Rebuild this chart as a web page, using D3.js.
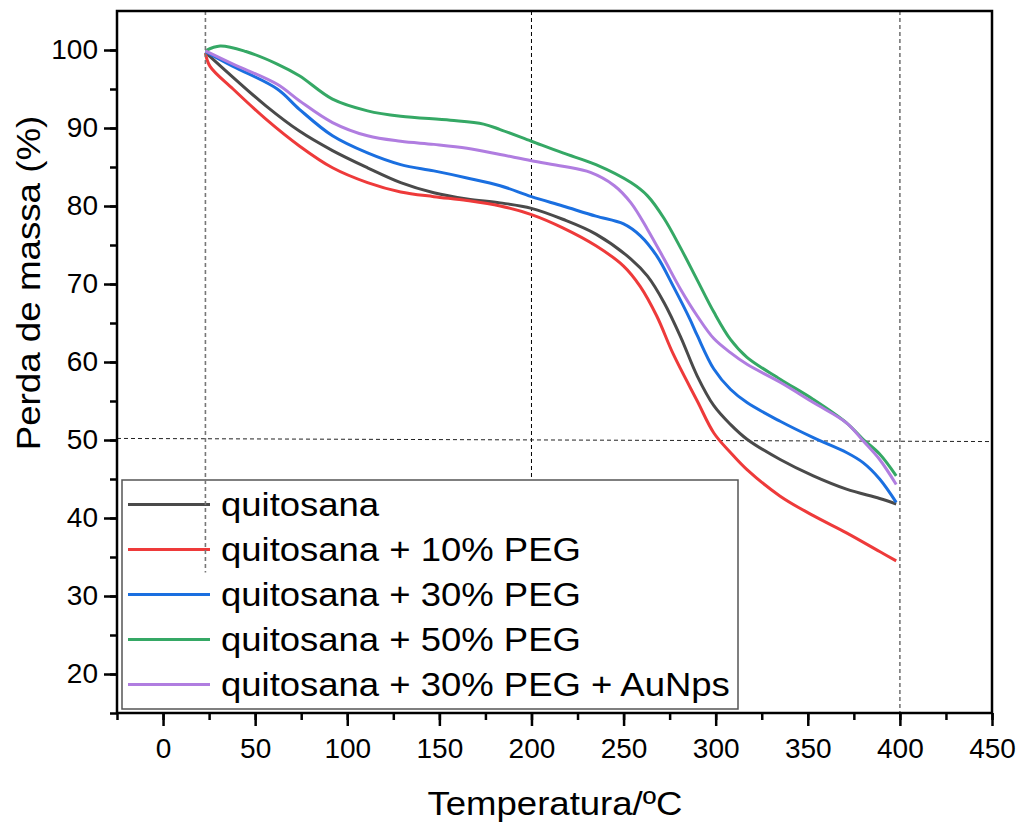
<!DOCTYPE html>
<html lang="pt">
<head>
<meta charset="UTF-8">
<script src="https://d3js.org/d3.v7.min.js"></script>
<title>TGA quitosana</title>
<style>
  body { margin: 0; background: #fff; }
  text { font-family: "Liberation Sans", Arial, sans-serif; fill: #000; }
  .axis path, .axis line { stroke: #000; }
  .curve { fill: none; stroke-width: 3; stroke-linejoin: round; }
</style>
</head>
<body>
<script>
// temperature (ºC) / mass (%)
const temp_quit = [23, 38, 56, 74, 92, 111, 129, 147, 165, 183, 200, 217, 235, 254, 263, 272, 281, 290, 299, 308, 317, 335, 353, 371, 389, 398];
const mass_quit = [99.7, 96.5, 92.8, 89.6, 87.1, 84.9, 83.0, 81.7, 80.9, 80.4, 79.7, 78.3, 76.4, 73.2, 71.0, 67.6, 63.2, 58.2, 54.4, 52.0, 50.1, 47.5, 45.4, 43.7, 42.5, 41.8];

const temp_peg10 = [23, 25.5, 38, 56, 74, 92, 111, 129, 147, 165, 183, 200, 217, 235, 250, 259, 268, 277, 290, 299, 308, 317, 335, 353, 371, 389, 398];
const mass_peg10 = [99.6, 97.9, 95.0, 91.1, 87.7, 84.9, 83.0, 81.8, 81.2, 80.7, 80.0, 78.9, 77.2, 74.9, 72.3, 69.7, 65.9, 61.0, 55.0, 50.9, 48.4, 46.2, 42.8, 40.3, 38.1, 35.7, 34.5];

const temp_peg30 = [23, 38, 62, 74, 92, 111, 129, 147, 165, 183, 200, 217, 235, 250, 259, 268, 277, 286, 290, 299, 308, 317, 335, 353, 371, 380, 389, 398];
const mass_peg30 = [99.8, 97.9, 95.0, 92.4, 89.0, 86.8, 85.3, 84.5, 83.6, 82.6, 81.2, 80.0, 78.7, 77.7, 76.2, 73.6, 69.7, 65.5, 63.4, 59.1, 56.5, 54.8, 52.4, 50.3, 48.4, 47.1, 45.0, 42.0];

const temp_peg50 = [23, 31, 45, 62, 74, 92, 111, 129, 156, 174, 183, 200, 217, 235, 254, 263, 272, 281, 290, 299, 308, 317, 335, 353, 371, 380, 389, 398];
const mass_peg50 = [99.9, 100.5, 99.8, 98.2, 96.7, 93.7, 92.2, 91.5, 91.0, 90.5, 89.8, 88.3, 86.8, 85.3, 83.0, 81.3, 78.4, 74.6, 70.5, 66.4, 62.9, 60.6, 57.8, 55.2, 52.2, 50.1, 48.2, 45.4];

const temp_auNp = [23, 38, 62, 74, 92, 111, 129, 147, 165, 183, 200, 217, 232, 245, 254, 263, 272, 281, 290, 299, 308, 317, 335, 353, 371, 380, 389, 398];
const mass_auNp = [99.9, 98.2, 95.6, 93.5, 90.7, 89.0, 88.3, 87.9, 87.4, 86.6, 85.8, 85.1, 84.3, 82.6, 80.4, 77.0, 73.2, 69.3, 65.9, 63.0, 61.2, 59.7, 57.4, 54.8, 52.2, 49.9, 47.5, 44.3];

const seriesNames = ["quitosana", "quitosana + 10% PEG", "quitosana + 30% PEG", "quitosana + 50% PEG", "quitosana + 30% PEG + AuNps"];
const seriesColors = ["#4a4a4a", "#ee3a3a", "#1a6fe0", "#35a865", "#b07de0"];
const xTicks = [0, 50, 100, 150, 200, 250, 300, 350, 400, 450];
const yTicks = [20, 30, 40, 50, 60, 70, 80, 90, 100];

const series = [
  [temp_quit, mass_quit],
  [temp_peg10, mass_peg10],
  [temp_peg30, mass_peg30],
  [temp_peg50, mass_peg50],
  [temp_auNp, mass_auNp]
].map(function (s, i) {
  return { name: seriesNames[i], color: seriesColors[i], pts: s[0].map(function (t, j) { return [t, s[1][j]]; }) };
});

const W = 1021, H = 824;
const m = { left: 117, right: 992, top: 11, bottom: 713 };

const svg = d3.select("body").append("svg").attr("width", W).attr("height", H);

const x = d3.scaleLinear().domain([-25, 450]).range([m.left, m.right]);
const y = d3.scaleLinear().domain([15, 105]).range([m.bottom, m.top]);

// widen text a bit, the original font runs wider than Liberation Sans
function stretch(sel, k) {
  sel.each(function () {
    const w = this.getComputedTextLength();
    d3.select(this).attr("textLength", w * k).attr("lengthAdjust", "spacingAndGlyphs");
  });
}

// dashed guide lines
function guide(x1, y1, x2, y2, col, w) {
  svg.append("line")
    .attr("x1", x(x1)).attr("y1", y(y1)).attr("x2", x(x2)).attr("y2", y(y2))
    .attr("stroke", col).attr("stroke-width", w).attr("stroke-dasharray", "4,3");
}
guide(200, 105, 200, 33, "#000", 1);
guide(400, 105, 400, 15, "#777", 1.6);
guide(-25, 50.2, 450, 49.8, "#222", 1);

// curves
const line = d3.line().x(function (d) { return x(d[0]); }).y(function (d) { return y(d[1]); })
  .curve(d3.curveCatmullRom.alpha(0.5));
svg.selectAll(".curve").data(series).enter().append("path")
  .attr("class", "curve")
  .attr("stroke", function (d) { return d.color; })
  .attr("d", function (d) { return line(d.pts); });

// legend
const lg = svg.append("g").attr("transform", "translate(122,480)");
lg.append("rect").attr("width", 616).attr("height", 229)
  .attr("fill", "#fff").attr("stroke", "#555").attr("stroke-width", 1.5);
const item = lg.selectAll(".item").data(series).enter().append("g")
  .attr("transform", function (d, i) { return "translate(0," + (24.5 + i * 45) + ")"; });
item.append("line").attr("x1", 6).attr("x2", 88)
  .attr("stroke", function (d) { return d.color; }).attr("stroke-width", 3);
item.append("text").attr("x", 99).attr("y", 11).style("font-size", "33px")
  .text(function (d) { return d.name; })
  .call(stretch, 1.105);

// guide at start temperature drawn above the legend
guide(23, 105, 23, 33, "#777", 1.6);

// axes
const xAxis = svg.append("g").attr("class", "axis").attr("transform", "translate(0," + m.bottom + ")");
xAxis.call(d3.axisBottom(x).tickValues(d3.range(-25, 451, 25)).tickSize(7).tickFormat(""));
xAxis.call(function (g) { g.selectAll("path").remove(); });
const xMaj = svg.append("g").attr("class", "axis").attr("transform", "translate(0," + m.bottom + ")")
  .call(d3.axisBottom(x).tickValues(xTicks).tickSize(13).tickPadding(12));
xMaj.select("path").remove();
xMaj.selectAll("text").style("font-size", "28px");

const yAxis = svg.append("g").attr("class", "axis").attr("transform", "translate(" + m.left + ",0)");
yAxis.call(d3.axisLeft(y).tickValues(d3.range(15, 105, 5)).tickSize(7).tickFormat(""));
yAxis.select("path").remove();
const yMaj = svg.append("g").attr("class", "axis").attr("transform", "translate(" + m.left + ",0)")
  .call(d3.axisLeft(y).tickValues(yTicks).tickSize(13).tickPadding(6));
yMaj.select("path").remove();
yMaj.selectAll("text").style("font-size", "28px");
svg.selectAll(".axis line").attr("stroke-width", 2.5);

// frame
svg.append("rect").attr("x", m.left).attr("y", m.top)
  .attr("width", m.right - m.left).attr("height", m.bottom - m.top)
  .attr("fill", "none").attr("stroke", "#000").attr("stroke-width", 2.5);

// titles
svg.append("text").attr("x", 555).attr("y", 815).attr("text-anchor", "middle")
  .style("font-size", "34px").text("Temperatura/ºC").call(stretch, 1.075);
svg.append("text").attr("transform", "translate(40,283) rotate(-90)").attr("text-anchor", "middle")
  .style("font-size", "34px").text("Perda de massa (%)").call(stretch, 1.08);
</script>
</body>
</html>
